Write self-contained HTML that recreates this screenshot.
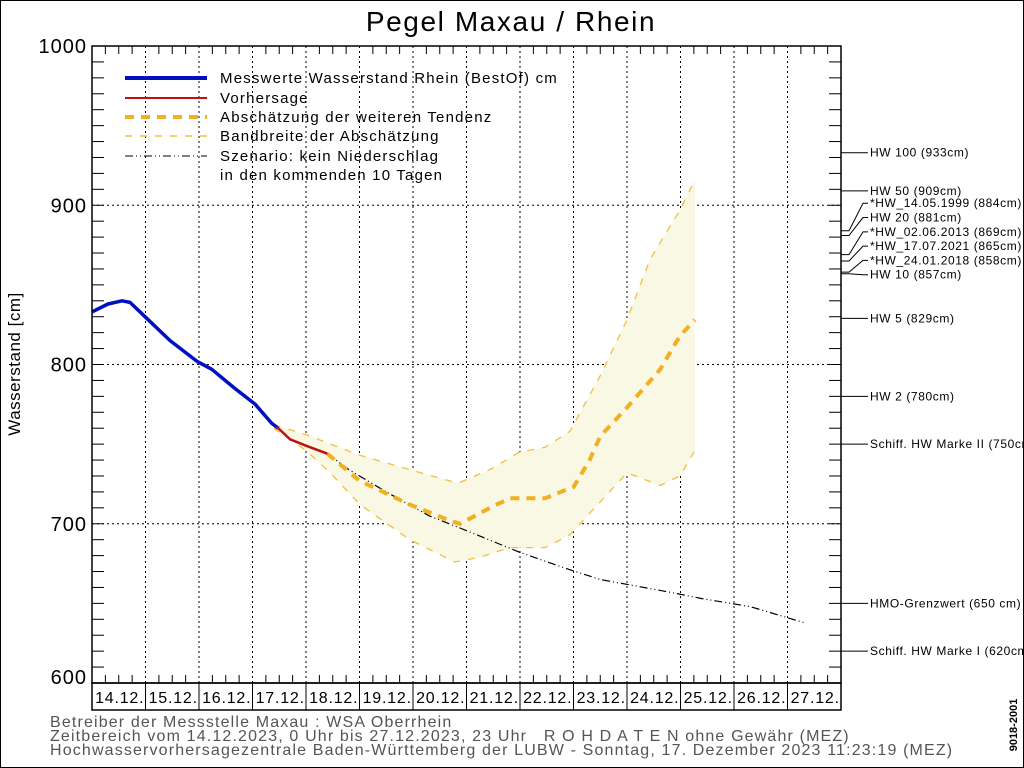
<!DOCTYPE html>
<html><head><meta charset="utf-8"><style>
html,body{margin:0;padding:0;background:#fff}
svg{display:block;font-family:"Liberation Sans",sans-serif}
</style></head><body>
<svg id="c" width="1024" height="768" viewBox="0 0 1024 768">
<rect x="0.5" y="0.5" width="1023" height="767" fill="#fff" stroke="#000"/>
<text x="511" y="31" text-anchor="middle" font-size="28" letter-spacing="1.6">Pegel Maxau / Rhein</text>
<text transform="translate(20,364) rotate(-90)" text-anchor="middle" font-size="17" letter-spacing="0.5">Wasserstand [cm]</text>
<g id="grid"></g>
<g id="band"></g>
<g id="lines"></g>
<g id="axes"></g>
<g id="marks"></g>
<g font-size="15" letter-spacing="1.2">
 <line x1="125" y1="78" x2="207" y2="78" stroke="#0010c0" stroke-width="4"/>
 <text x="220" y="83">Messwerte Wasserstand Rhein (BestOf)  cm</text>
 <line x1="125" y1="98" x2="207" y2="98" stroke="#c01010" stroke-width="2"/>
 <text x="220" y="103">Vorhersage</text>
 <line x1="125" y1="117" x2="207" y2="117" stroke="#f0b020" stroke-width="4" stroke-dasharray="9 7"/>
 <text x="220" y="122">Abschätzung der weiteren Tendenz</text>
 <line x1="125" y1="136" x2="207" y2="136" stroke="#f0c040" stroke-width="1.5" stroke-dasharray="7 8"/>
 <text x="220" y="141">Bandbreite der Abschätzung</text>
 <line x1="125" y1="156" x2="207" y2="156" stroke="#000" stroke-width="1" stroke-dasharray="8 3 1 3 1 3"/>
 <text x="220" y="161">Szenario: kein Niederschlag</text>
 <text x="220" y="180">in den kommenden 10 Tagen</text>
</g>
<g font-size="16" letter-spacing="1.15" fill="#555">
 <text x="50" y="727">Betreiber der Messstelle Maxau : WSA Oberrhein</text>
 <text x="50" y="741" xml:space="preserve">Zeitbereich vom 14.12.2023, 0 Uhr bis 27.12.2023, 23 Uhr   R O H D A T E N ohne Gewähr (MEZ)</text>
 <text x="50" y="755">Hochwasservorhersagezentrale Baden-Württemberg der LUBW - Sonntag, 17. Dezember 2023 11:23:19 (MEZ)</text>
</g>
<text transform="translate(1017,725) rotate(-90)" text-anchor="middle" font-size="11" font-weight="bold">9018-2001</text>
</svg>
<script>
const days=["14.12.","15.12.","16.12.","17.12.","18.12.","19.12.","20.12.","21.12.","22.12.","23.12.","24.12.","25.12.","26.12.","27.12."];
const yTicks=[1000,900,800,700,600];
const measuredT=[0,0.3,0.56,0.71,0.99,1.46,1.96,2.24,2.67,3.05,3.36,3.48];
const measuredV=[833,838,840,839,830,815,802,797,785,775,763,760];
const forecastT=[3.45,3.7,4.0,4.4];
const forecastV=[761,753,749,744];
const scenarioT=[4.4,4.8,5.5,6.3,6.9,8.0,8.85,9.5,10.8,11.4,12.3,13.3];
const scenarioV=[744,734,720,705,697,682,672,665,657,653,648,638];
const tendT=[4.4,5.0,5.94,6.69,6.88,7.44,7.81,8.47,8.84,9.0,9.3,9.5,10.0,10.62,10.99,11.27];
const tendV=[744,727,712,702,700,710,716,716,721,723,740,755,773,797,818,828];
const upperT=[3.4,4.0,5.01,5.94,6.78,6.88,7.44,7.99,8.47,8.93,9.5,10.0,10.43,10.99,11.27];
const upperV=[762,756,743,734,726,726,734,745,748,758,793,828,866,897,916];
const lowerT=[3.4,4.0,4.45,5.01,5.94,6.78,7.25,7.81,8.47,8.93,10.0,10.62,10.99,11.27];
const lowerV=[760,746,732,712,690,676,679,685,685,693,732,724,730,746];
const markLabels=["HW 100 (933cm)","HW 50 (909cm)","*HW_14.05.1999 (884cm)","HW 20 (881cm)","*HW_02.06.2013 (869cm)","*HW_17.07.2021 (865cm)","*HW_24.01.2018 (858cm)","HW 10 (857cm)","HW 5 (829cm)","HW 2 (780cm)","Schiff. HW Marke II (750cm)","HMO-Grenzwert (650 cm)","Schiff. HW Marke I (620cm)"];
const markValues=[933,909,884,881,869,865,858,857,829,780,750,650,620];
const L=92,R=841,T=46,B=683;
const X=t=>L+t*(R-L)/14;
const Y=v=>T+(1000-v)*(B-T)/400;
const NS="http://www.w3.org/2000/svg";
function mk(p,tag,at){const e=document.createElementNS(NS,tag);for(const k in at)e.setAttribute(k,at[k]);p.appendChild(e);return e;}
const g=id=>document.getElementById(id);
const pts=(ts,vs)=>ts.map((t,i)=>X(t).toFixed(1)+","+Y(vs[i]).toFixed(1)).join(" ");
for(let d=1;d<14;d++){const e=mk(g('grid'),'line',{x1:X(d),y1:T,x2:X(d),y2:B,stroke:'#000','stroke-dasharray':'2 3'});

}
[900,800,700].forEach(v=>{const e=mk(g('grid'),'line',{x1:L,y1:Y(v),x2:R,y2:Y(v),stroke:'#000','stroke-dasharray':'2 3'});

});
const bandPoly=mk(g('band'),'polygon',{points:pts(upperT,upperV)+" "+pts(lowerT.slice().reverse(),lowerV.slice().reverse()),fill:'#f8f8e4',stroke:'none'});


[[upperT,upperV,'band-upper'],[lowerT,lowerV,'band-lower']].forEach(a=>{const e=mk(g('band'),'polyline',{points:pts(a[0],a[1]),fill:'none',stroke:'#f0c040','stroke-width':1.3,'stroke-dasharray':'7 8'});

});
let e;
e=mk(g('lines'),'polyline',{points:pts(scenarioT,scenarioV),fill:'none',stroke:'#000','stroke-width':1.2,'stroke-dasharray':'8 3 1 3 1 3'});


e=mk(g('lines'),'polyline',{points:pts(tendT,tendV),fill:'none',stroke:'#f0b020','stroke-width':4,'stroke-dasharray':'9 7'});


e=mk(g('lines'),'polyline',{points:pts(measuredT,measuredV),fill:'none',stroke:'#0010c0','stroke-width':3.5,'stroke-linejoin':'round'});


e=mk(g('lines'),'polyline',{points:pts(forecastT,forecastV),fill:'none',stroke:'#c01010','stroke-width':2.5});


const ax=g('axes');
e=mk(ax,'rect',{x:L,y:T,width:R-L,height:B-T,fill:'none',stroke:'#000','stroke-width':1.5});


e=mk(ax,'rect',{x:L,y:B,width:R-L,height:27,fill:'none',stroke:'#000','stroke-width':1.5});


for(let v=610;v<1000;v+=10){mk(ax,'line',{x1:L,y1:Y(v),x2:L+12,y2:Y(v),stroke:'#000'});mk(ax,'line',{x1:R-12,y1:Y(v),x2:R,y2:Y(v),stroke:'#000'});}
for(let q=1;q<56;q++){if(q%4==0)continue;const x=X(q/4);mk(ax,'line',{x1:x,y1:T,x2:x,y2:T+8,stroke:'#000'});mk(ax,'line',{x1:x,y1:B,x2:x,y2:B-8,stroke:'#000'});}
days.forEach((d,i)=>{if(i>0)mk(ax,'line',{x1:X(i),y1:B,x2:X(i),y2:B+27,stroke:'#000'});
const t=mk(ax,'text',{x:X(i+0.5)+1,y:B+20,'text-anchor':'middle','font-size':16,'letter-spacing':0.8});t.textContent=d;

});
yTicks.forEach(v=>{const t=mk(ax,'text',{x:87,y:Y(v)+(v==600?1:7),'text-anchor':'end','font-size':20,'letter-spacing':1});t.textContent=v;

});
const mg=g('marks');
const labelGap=14.3;let prev=-1e9;
markValues.forEach((v,i)=>{const y=Y(v);let ly=(i>=2&&i<=7)?Y(markValues[1])+labelGap*(i-1)-2:Math.max(y,prev+labelGap);prev=ly;
const p=mk(mg,'polyline',{points:`${R},${y} ${R+8},${y} ${R+22},${ly} ${R+27},${ly}`,fill:'none',stroke:'#000'});


const t=mk(mg,'text',{x:R+29,y:ly+4,'font-size':12,'letter-spacing':0.6});t.textContent=markLabels[i];

});
</script>
</body></html>
